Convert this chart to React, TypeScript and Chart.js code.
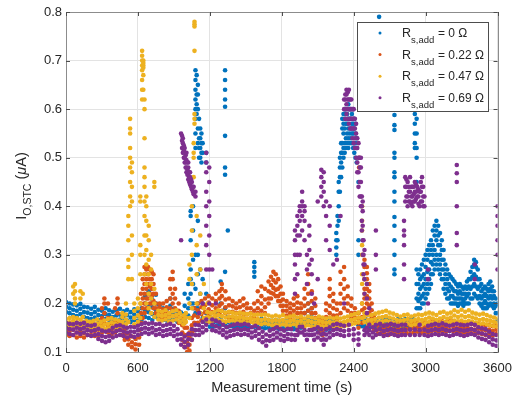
import React, { useEffect, useRef } from 'react';
import { Chart, registerables } from 'chart.js';
Chart.register(...registerables);

const seriesLabels = ['0', '0.22', '0.47', '0.69'];
const seriesColors = ['#0072BD', '#D95319', '#EDB120', '#7E2F8E'];
const xTickValues = [0, 600, 1200, 1800, 2400, 3000, 3600];
const yTickValues = [0.1, 0.2, 0.3, 0.4, 0.5, 0.6, 0.7, 0.8];
const xTitle = 'Measurement time (s)';

// rows: [time (s), value(s) read at that time (µA)...]
const blueRows: number[][] = [
  [0,0.182,0.193,0.203],[30,0.18,0.19,0.2],[60,0.176,0.187,0.198],[90,0.174,0.185,0.196],[120,0.178,0.189,0.199],[150,0.172,0.182,0.193],[180,0.17,0.181,0.192],[210,0.168,0.178,0.189],[240,0.171,0.182,0.193],[270,0.166,0.176,0.187],[300,0.164,0.174,0.185],[330,0.168,0.178,0.19],[360,0.166,0.176,0.186],[390,0.162,0.172,0.183],[420,0.165,0.175,0.186],[450,0.167,0.177,0.189],[480,0.163,0.173,0.184],[510,0.165,0.176,0.187],[540,0.162,0.171,0.182],[570,0.166,0.177,0.188],[600,0.164,0.174,0.184],
  [630,0.166,0.178,0.19],[660,0.172,0.185,0.2,0.215],[690,0.17,0.182,0.198,0.225],[720,0.166,0.178,0.192,0.208],[750,0.172,0.186,0.2,0.218],[780,0.17,0.182,0.196],[810,0.166,0.177,0.19],[840,0.165,0.176,0.188],[870,0.168,0.18,0.195,0.21],[900,0.166,0.177,0.189],[930,0.162,0.172,0.183],[960,0.16,0.17,0.181],[990,0.165,0.178,0.195,0.22],[1020,0.175,0.19,0.21,0.24],
  [1040,0.2,0.22,0.25,0.27,0.33,0.38,0.39],[1060,0.19,0.2,0.24,0.29,0.35,0.4],[1080,0.18,0.19,0.23,0.3,0.52,0.55,0.58,0.6,0.62,0.64,0.66,0.68],[1090,0.59,0.61,0.63,0.67],[1100,0.19,0.2,0.26,0.3,0.37,0.53,0.56,0.6,0.63,0.65],[1110,0.5,0.52,0.54,0.58],[1120,0.18,0.22,0.27,0.5,0.52,0.54,0.56],[1130,0.49,0.51,0.53,0.55],[1140,0.17,0.2,0.25,0.51,0.53],[1170,0.16,0.18,0.22,0.49,0.51],[1200,0.152,0.162,0.172],
  [1230,0.152,0.161,0.17],[1260,0.155,0.166,0.18],[1290,0.156,0.168,0.2,0.245],[1327,0.155,0.19,0.265,0.465,0.48,0.545,0.605,0.62,0.64,0.66,0.68],[1350,0.152,0.162,0.172,0.35],[1380,0.153,0.162,0.171],[1410,0.152,0.16,0.168],[1440,0.15,0.159,0.167],[1470,0.152,0.161,0.17],[1500,0.15,0.158,0.166],[1530,0.151,0.16,0.168],[1571,0.152,0.16,0.255,0.265,0.275,0.285],[1600,0.15,0.158,0.166],[1630,0.151,0.16,0.168],[1660,0.149,0.157,0.165],[1690,0.15,0.158,0.166],[1720,0.148,0.156,0.164],[1750,0.15,0.158,0.166],[1780,0.147,0.155,0.164],[1810,0.149,0.157,0.165],[1840,0.147,0.155,0.163],[1870,0.148,0.156,0.165],[1900,0.147,0.155,0.164],[1930,0.149,0.158,0.166],[1960,0.15,0.159,0.168],[1990,0.155,0.168,0.18],[2020,0.16,0.172,0.185,0.2],[2050,0.155,0.165,0.178,0.19],[2080,0.148,0.156,0.164],[2110,0.146,0.154,0.162],[2140,0.144,0.152,0.16],[2170,0.146,0.154,0.162],[2200,0.148,0.157,0.165],[2230,0.15,0.16,0.168],
  [2255,0.155,0.3,0.315,0.33,0.345],[2265,0.33,0.36,0.38],[2275,0.37,0.4,0.43,0.45],[2285,0.43,0.46,0.48,0.5],[2295,0.46,0.49,0.51,0.53],[2305,0.48,0.51,0.53,0.56,0.58],[2315,0.5,0.52,0.55,0.57,0.59],[2325,0.51,0.53,0.56,0.58,0.6],[2335,0.52,0.54,0.57,0.59,0.6],[2345,0.53,0.55,0.57,0.59],[2355,0.52,0.54,0.56,0.58,0.61],[2365,0.53,0.55,0.58,0.6],[2375,0.54,0.56,0.58,0.6],[2385,0.53,0.55,0.57,0.59],[2395,0.52,0.55,0.57,0.6],[2405,0.51,0.53,0.56,0.58],[2415,0.5,0.53,0.55,0.57],[2425,0.49,0.52,0.54],[2440,0.155,0.3,0.33,0.45],
  [2470,0.153,0.162,0.17],[2500,0.152,0.16,0.168],[2530,0.15,0.158,0.166],[2560,0.152,0.161,0.168],[2590,0.15,0.159,0.167],[2612,0.152,0.16,0.7,0.73,0.76,0.79],[2640,0.15,0.158,0.166],[2670,0.152,0.16,0.168],[2700,0.15,0.159,0.167],[2740,0.153,0.162,0.26,0.27,0.3,0.33,0.36,0.378,0.41,0.43,0.46,0.47,0.5,0.51,0.557,0.567,0.588],[2770,0.152,0.16,0.168],[2800,0.15,0.158,0.166],[2830,0.152,0.16,0.168],[2860,0.151,0.159,0.167],[2890,0.153,0.162,0.17],[2910,0.52,0.53,0.55,0.57,0.59],[2925,0.19,0.21,0.24,0.27,0.45,0.5,0.52,0.55,0.58,0.6],
  [2940,0.19,0.205,0.22,0.24,0.26],[2955,0.19,0.21,0.23,0.25,0.27],[2970,0.2,0.215,0.235,0.255,0.28],[2985,0.2,0.22,0.24,0.26,0.29],[3000,0.21,0.23,0.25,0.275,0.3],[3015,0.22,0.24,0.265,0.29,0.31],[3030,0.23,0.25,0.27,0.3,0.32],[3045,0.24,0.26,0.285,0.31,0.33],[3060,0.26,0.28,0.3,0.32,0.35],[3075,0.27,0.29,0.31,0.34,0.36],[3090,0.28,0.3,0.33,0.35,0.37],[3105,0.27,0.29,0.32,0.34,0.36],[3120,0.26,0.28,0.3,0.32,0.345],[3135,0.25,0.27,0.29,0.31,0.33],[3150,0.23,0.25,0.27,0.29,0.31],[3165,0.22,0.24,0.26,0.28],[3180,0.21,0.23,0.25,0.27],[3195,0.21,0.225,0.24,0.26],[3210,0.2,0.215,0.235,0.255],[3225,0.2,0.215,0.23,0.25],[3240,0.2,0.21,0.225,0.245],[3255,0.2,0.21,0.225,0.24],[3270,0.195,0.21,0.22,0.235],[3285,0.2,0.21,0.225,0.24],[3300,0.2,0.21,0.22,0.235],[3315,0.195,0.205,0.22,0.23],[3330,0.2,0.21,0.22,0.235],[3345,0.2,0.215,0.23,0.245],[3360,0.2,0.22,0.235,0.25],[3375,0.21,0.23,0.25,0.265],[3390,0.21,0.235,0.255,0.275],[3405,0.22,0.24,0.26,0.28,0.29],[3420,0.215,0.235,0.255,0.275,0.285],[3435,0.21,0.23,0.25,0.27],[3450,0.2,0.215,0.235,0.25],[3465,0.195,0.21,0.225,0.24],[3480,0.19,0.2,0.215,0.23],[3495,0.19,0.205,0.22,0.235],[3510,0.19,0.2,0.215,0.23],[3525,0.195,0.21,0.225,0.24],[3540,0.2,0.215,0.23,0.245],[3555,0.195,0.21,0.225,0.235],[3570,0.19,0.2,0.215,0.225],[3585,0.18,0.195,0.21],[3600,0.165,0.18,0.2],
];

const orangeRows: number[][] = [
  [0,0.135,0.145,0.155],[30,0.133,0.143,0.153],[60,0.135,0.146,0.156],[90,0.13,0.14,0.151],[120,0.133,0.143,0.154],[150,0.13,0.139,0.149],[180,0.135,0.145,0.156],[210,0.135,0.146,0.158],[240,0.133,0.143,0.154],[270,0.135,0.146,0.158],[300,0.14,0.155,0.17,0.19],[320,0.145,0.16,0.18,0.2,0.21],[350,0.14,0.155,0.17,0.2],[380,0.135,0.146,0.157],[410,0.14,0.152,0.165,0.19],[430,0.145,0.16,0.18,0.2,0.21],[460,0.135,0.146,0.157],[490,0.125,0.136,0.147],[520,0.115,0.126,0.138],[550,0.11,0.12,0.132],[580,0.105,0.116,0.127],[610,0.115,0.13,0.145,0.16],
  [625,0.16,0.18,0.2,0.22],[640,0.17,0.19,0.21,0.23,0.25],[655,0.18,0.2,0.22,0.24,0.26,0.275],[670,0.19,0.21,0.23,0.25,0.27],[685,0.19,0.21,0.22,0.24,0.26,0.275],[700,0.2,0.22,0.235,0.25,0.27],[715,0.2,0.215,0.23,0.25,0.265],[730,0.19,0.205,0.22,0.24,0.26],[750,0.18,0.19,0.2,0.22],[780,0.172,0.182,0.192,0.2],[810,0.168,0.178,0.188,0.2],[840,0.172,0.182,0.192,0.205],[870,0.175,0.19,0.21,0.23,0.25],[890,0.185,0.2,0.22,0.25,0.265],[910,0.175,0.19,0.21,0.23],[940,0.16,0.172,0.185,0.2],[970,0.125,0.14,0.155,0.17],[990,0.11,0.12,0.135,0.15,0.16],[1010,0.1,0.11,0.12,0.135,0.15],[1030,0.103,0.115,0.13,0.14],[1050,0.125,0.14,0.155,0.17],[1070,0.145,0.16,0.175,0.19],[1100,0.16,0.172,0.186,0.2],[1130,0.165,0.178,0.192,0.205],[1160,0.17,0.182,0.196,0.21],[1190,0.175,0.188,0.202,0.215],
  [1220,0.17,0.182,0.196,0.21],[1250,0.175,0.19,0.205,0.22],[1280,0.18,0.195,0.21,0.225],[1300,0.185,0.2,0.215,0.23,0.24],[1330,0.18,0.192,0.208,0.225],[1360,0.17,0.182,0.196,0.21],[1390,0.172,0.183,0.194,0.205],[1420,0.17,0.18,0.19,0.2],[1450,0.17,0.18,0.192,0.205],[1480,0.172,0.183,0.196,0.21],[1510,0.168,0.178,0.19,0.2],[1540,0.17,0.18,0.19],[1570,0.172,0.185,0.2],[1600,0.18,0.19,0.205,0.225],[1630,0.185,0.2,0.215,0.235],[1660,0.18,0.192,0.208,0.23],[1690,0.2,0.21,0.225,0.245],[1710,0.21,0.222,0.238,0.255],[1730,0.22,0.232,0.248,0.265],[1750,0.215,0.228,0.243,0.26],[1770,0.205,0.215,0.23,0.25],[1790,0.195,0.205,0.22,0.235],[1810,0.185,0.195,0.208,0.22],[1840,0.175,0.185,0.195,0.205],[1870,0.17,0.18,0.19,0.2],[1900,0.175,0.185,0.197,0.21],[1930,0.18,0.19,0.202,0.215],[1960,0.17,0.18,0.19,0.2],[1990,0.18,0.195,0.21,0.23],[2020,0.185,0.2,0.22,0.24,0.26],[2050,0.18,0.19,0.205,0.225],[2080,0.17,0.18,0.195,0.21],[2110,0.14,0.15,0.16,0.17],[2140,0.135,0.145,0.155,0.165],[2170,0.16,0.172,0.186,0.2],[2200,0.18,0.195,0.215,0.23,0.25],[2230,0.175,0.19,0.205,0.22],[2260,0.165,0.175,0.187,0.2],[2290,0.18,0.2,0.22,0.24,0.265],[2320,0.19,0.21,0.23,0.25,0.275],[2350,0.185,0.2,0.215,0.235],[2380,0.17,0.18,0.195,0.21],[2410,0.16,0.17,0.18,0.19],[2440,0.15,0.16,0.17,0.18],[2445,0.48,0.5],[2470,0.16,0.172,0.186,0.2],[2490,0.19,0.21,0.23,0.25,0.275,0.29],[2510,0.2,0.215,0.23,0.25,0.262,0.275],[2530,0.18,0.195,0.21,0.225,0.24],[2550,0.16,0.172,0.186,0.2],[2570,0.145,0.155,0.165,0.175],
  [2600,0.137,0.146,0.155],[2630,0.139,0.148,0.157],[2660,0.137,0.146,0.155],[2690,0.135,0.144,0.153],[2720,0.139,0.148,0.158],[2750,0.137,0.146,0.156],[2780,0.14,0.149,0.159],[2810,0.137,0.146,0.156],[2840,0.139,0.148,0.158],[2870,0.137,0.146,0.155],[2900,0.14,0.149,0.159],[2930,0.142,0.151,0.161],[2960,0.139,0.148,0.158],[2990,0.142,0.151,0.161],[3020,0.14,0.149,0.159],[3050,0.143,0.153,0.163],[3080,0.145,0.155,0.165],[3110,0.142,0.151,0.161],[3140,0.144,0.153,0.163],[3170,0.142,0.151,0.161],[3200,0.145,0.155,0.165],[3230,0.143,0.153,0.163],[3260,0.14,0.149,0.159],[3290,0.142,0.151,0.161],[3320,0.139,0.148,0.158],[3350,0.141,0.15,0.16],[3380,0.139,0.148,0.158],[3410,0.137,0.146,0.156],[3440,0.139,0.148,0.158],[3470,0.137,0.146,0.156],[3500,0.135,0.145,0.155],[3530,0.137,0.146,0.156],[3560,0.134,0.143,0.153],[3590,0.137,0.146,0.155],
];

const yellowRows: number[][] = [
  [0,0.152,0.16,0.168],[30,0.152,0.161,0.17],[60,0.155,0.164,0.172,0.22,0.235],[75,0.2,0.21,0.225,0.24],[90,0.152,0.161,0.17],[120,0.149,0.158,0.167,0.21,0.225],[140,0.152,0.162,0.172,0.22],[170,0.147,0.155,0.164],[200,0.145,0.153,0.162],[230,0.147,0.155,0.164],[260,0.149,0.158,0.167],[290,0.145,0.153,0.162],[320,0.147,0.156,0.165],[350,0.149,0.158,0.168],[380,0.152,0.161,0.17],[410,0.149,0.158,0.167],[440,0.147,0.156,0.165],[470,0.152,0.162,0.172,0.18],[500,0.157,0.167,0.177,0.2],[520,0.162,0.25,0.275,0.29,0.33,0.36,0.38],[535,0.4,0.42,0.45,0.48,0.5,0.52,0.55,0.56,0.58],[550,0.25,0.3,0.34,0.41,0.44,0.47,0.49],[570,0.157,0.17,0.185,0.2],[600,0.162,0.175,0.19,0.21],[620,0.17,0.2,0.26,0.3,0.32,0.41,0.42],[635,0.62,0.64,0.66,0.68,0.69,0.7,0.71,0.72],[645,0.64,0.67,0.685,0.69,0.695,0.7],[655,0.26,0.3,0.34,0.38,0.41,0.44,0.46,0.48,0.54,0.6,0.62],[670,0.2,0.24,0.28,0.31,0.34,0.37,0.4,0.42],[690,0.19,0.22,0.26,0.29,0.33,0.36],[710,0.18,0.21,0.24,0.27,0.3],[737,0.172,0.2,0.23,0.44,0.45],
  [770,0.167,0.176,0.185],[800,0.165,0.174,0.183],[830,0.167,0.176,0.186],[860,0.162,0.171,0.18],[890,0.165,0.174,0.184],[920,0.167,0.176,0.186],[950,0.162,0.171,0.18],[980,0.157,0.166,0.175],[1000,0.162,0.171,0.18],[1030,0.17,0.2,0.25,0.28],[1050,0.19,0.24,0.3,0.35,0.4],[1065,0.43,0.46,0.5,0.51,0.53],[1072,0.57,0.58,0.59,0.72,0.77,0.775,0.78],[1090,0.2,0.26,0.32,0.38],[1120,0.18,0.22,0.27,0.34],[1150,0.17,0.19,0.24],[1180,0.162,0.172,0.182,0.2],[1210,0.162,0.171,0.18],
  [1240,0.165,0.174,0.183],[1270,0.167,0.176,0.186],[1300,0.165,0.174,0.184],[1330,0.162,0.171,0.181],[1360,0.164,0.173,0.183],[1390,0.165,0.173,0.181],[1420,0.162,0.17,0.179],[1450,0.163,0.172,0.181],[1480,0.162,0.17,0.179],[1510,0.16,0.169,0.178],[1540,0.162,0.17,0.179],[1570,0.159,0.167,0.176],[1600,0.16,0.168,0.177],[1630,0.157,0.166,0.176],[1660,0.159,0.168,0.177],[1690,0.157,0.166,0.175],[1720,0.155,0.164,0.173],[1750,0.157,0.166,0.175],[1780,0.155,0.164,0.173],[1810,0.157,0.166,0.176],[1840,0.154,0.162,0.171],[1870,0.155,0.164,0.173],[1900,0.157,0.166,0.175],[1930,0.154,0.162,0.171],[1960,0.155,0.164,0.173],[1990,0.152,0.16,0.169],[2020,0.155,0.164,0.173],[2050,0.153,0.162,0.171],[2080,0.152,0.16,0.169],[2110,0.155,0.164,0.173],[2140,0.153,0.162,0.171],[2170,0.152,0.16,0.169],[2200,0.153,0.162,0.171],[2230,0.152,0.16,0.169],[2260,0.154,0.162,0.171],[2290,0.152,0.16,0.169],[2320,0.153,0.162,0.171],[2350,0.155,0.164,0.173],[2380,0.157,0.166,0.176],[2410,0.159,0.168,0.178],[2440,0.162,0.171,0.181],[2470,0.17,0.2,0.24,0.26,0.3,0.32,0.35,0.37,0.4],[2490,0.162,0.172,0.18,0.22,0.25],[2520,0.157,0.166,0.176],
  [2550,0.157,0.166,0.176],[2580,0.159,0.168,0.179],[2610,0.162,0.171,0.181],[2640,0.163,0.172,0.183],[2670,0.165,0.174,0.185],[2700,0.162,0.171,0.181],[2730,0.16,0.169,0.179],[2760,0.157,0.166,0.176],[2790,0.155,0.164,0.173],[2820,0.157,0.166,0.176],[2850,0.159,0.168,0.177],[2880,0.155,0.164,0.173],[2910,0.157,0.166,0.175],[2940,0.159,0.168,0.177],[2970,0.157,0.166,0.176],[3000,0.159,0.168,0.179],[3030,0.162,0.171,0.181],[3060,0.16,0.169,0.179],[3090,0.157,0.166,0.176],[3120,0.159,0.169,0.181],[3150,0.162,0.172,0.183],[3180,0.16,0.169,0.179],[3210,0.162,0.171,0.181],[3240,0.165,0.175,0.186],[3270,0.163,0.172,0.183],[3300,0.165,0.175,0.187],[3330,0.162,0.172,0.183],[3360,0.164,0.174,0.186],[3390,0.162,0.171,0.181],[3420,0.16,0.169,0.179],[3450,0.157,0.166,0.177],[3480,0.159,0.168,0.179],[3510,0.157,0.166,0.176],[3540,0.155,0.164,0.173],[3570,0.153,0.162,0.171],[3600,0.152,0.16,0.169],
];

const purpleRows: number[][] = [
  [0,0.14,0.15,0.16],[30,0.137,0.147,0.158],[60,0.135,0.146,0.157],[90,0.14,0.15,0.16],[120,0.137,0.147,0.158],[150,0.14,0.15,0.16],[180,0.135,0.145,0.155],[210,0.133,0.143,0.154],[240,0.135,0.145,0.156],[270,0.127,0.137,0.148],[300,0.123,0.133,0.144],[330,0.12,0.131,0.142],[360,0.123,0.133,0.144],[390,0.13,0.14,0.15],[420,0.133,0.143,0.154],[450,0.135,0.145,0.155],[480,0.133,0.142,0.152],[510,0.13,0.14,0.15],[540,0.133,0.142,0.152],[570,0.131,0.141,0.151],[600,0.135,0.145,0.154],[630,0.137,0.147,0.157],[660,0.14,0.15,0.16],[690,0.137,0.147,0.158],[720,0.14,0.15,0.16],[750,0.135,0.145,0.157],[780,0.137,0.147,0.158],[810,0.133,0.143,0.154],[840,0.135,0.145,0.156],[870,0.137,0.147,0.158],[900,0.133,0.143,0.154],[930,0.125,0.136,0.147],
  [960,0.115,0.126,0.137,0.33,0.55],[968,0.52,0.535,0.545],[975,0.51,0.53,0.54],[983,0.5,0.515,0.525],[990,0.11,0.121,0.132,0.49,0.5,0.52],[998,0.48,0.49,0.505],[1005,0.47,0.48,0.495,0.51],[1013,0.465,0.475,0.49],[1020,0.115,0.126,0.137,0.455,0.465,0.48,0.49],[1028,0.45,0.46,0.47],[1035,0.445,0.455,0.46,0.47],[1043,0.44,0.45,0.455],[1050,0.125,0.136,0.147,0.435,0.44,0.45],[1058,0.43,0.44],[1065,0.425,0.43,0.44],[1080,0.135,0.145,0.156,0.42,0.43],[1110,0.135,0.145,0.155,0.18],[1140,0.14,0.151,0.162,0.2],[1170,0.145,0.156,0.167,0.27,0.32,0.36,0.4,0.43,0.47,0.49,0.51],[1195,0.2,0.27,0.3,0.34,0.38,0.41,0.45,0.48],[1220,0.145,0.156,0.167,0.27],
  [1250,0.143,0.153,0.164,0.2],[1280,0.14,0.15,0.161],[1310,0.135,0.145,0.156],[1340,0.13,0.14,0.151],[1370,0.133,0.143,0.154],[1400,0.135,0.145,0.156],[1430,0.137,0.147,0.158],[1460,0.135,0.145,0.156],[1490,0.137,0.147,0.158],[1520,0.135,0.145,0.156],[1550,0.13,0.14,0.151],[1580,0.133,0.143,0.154],[1610,0.125,0.137,0.149],[1640,0.12,0.131,0.142],[1670,0.113,0.124,0.136],[1700,0.123,0.133,0.144],[1730,0.125,0.136,0.147],[1760,0.13,0.14,0.151],[1790,0.125,0.136,0.147],[1820,0.123,0.133,0.144],[1850,0.127,0.137,0.148],[1880,0.125,0.136,0.147],
  [1910,0.125,0.135,0.22,0.25,0.28,0.3,0.33,0.35],[1930,0.135,0.145,0.26,0.3,0.34,0.36,0.38],[1950,0.14,0.152,0.3,0.34,0.37,0.39,0.4],[1970,0.14,0.152,0.35,0.38,0.4,0.41,0.43],[1990,0.135,0.145,0.33,0.37,0.39,0.4],[2010,0.125,0.136,0.24,0.27,0.3],[2030,0.135,0.145,0.28,0.31,0.34,0.36],[2050,0.135,0.145,0.22,0.26,0.29],[2070,0.125,0.136,0.147,0.2],[2100,0.13,0.14,0.151,0.25,0.41],[2130,0.125,0.136,0.147,0.42,0.44,0.46,0.475],[2150,0.115,0.126,0.138,0.4,0.43,0.45,0.47],[2170,0.125,0.136,0.147,0.33,0.38,0.41],[2200,0.13,0.14,0.151,0.31,0.36,0.4],[2230,0.135,0.145,0.156,0.28],[2260,0.137,0.147,0.158,0.29],[2290,0.135,0.145,0.156,0.38],[2320,0.133,0.143,0.154,0.2,0.6,0.62],[2330,0.58,0.6,0.62,0.63],[2340,0.59,0.61,0.63,0.64],[2350,0.58,0.6,0.62,0.635],[2360,0.135,0.145,0.156,0.57,0.6,0.62,0.64],[2370,0.56,0.58,0.6,0.62],[2380,0.56,0.58,0.6,0.62],[2390,0.54,0.56,0.58,0.6],[2400,0.125,0.136,0.147,0.53,0.56,0.58,0.6],[2410,0.52,0.54,0.56,0.58],[2420,0.5,0.52,0.55,0.57],[2430,0.47,0.49,0.52,0.54],[2440,0.115,0.126,0.138,0.44,0.47,0.5,0.53],[2450,0.42,0.45,0.48,0.5],[2460,0.4,0.42,0.45,0.48,0.5],[2468,0.35,0.37,0.4,0.42],[2475,0.3,0.33,0.36,0.39,0.41],[2482,0.26,0.28,0.3,0.33],[2490,0.135,0.145,0.22,0.25,0.28,0.31],[2510,0.14,0.15,0.18,0.21,0.24],[2530,0.135,0.145,0.156,0.19],[2560,0.13,0.14,0.151],[2585,0.135,0.145,0.156,0.27,0.3,0.35],
  [2620,0.137,0.147,0.158],[2650,0.133,0.143,0.154],[2680,0.135,0.145,0.156],[2710,0.137,0.147,0.158],[2740,0.135,0.145,0.156],[2770,0.133,0.143,0.154],[2800,0.135,0.145,0.156],[2820,0.25,0.28,0.32,0.34,0.35,0.37],[2830,0.135,0.145,0.156,0.41,0.44,0.46],[2840,0.42,0.44,0.455],[2850,0.4,0.42,0.45],[2860,0.41,0.43,0.44],[2870,0.135,0.146,0.41,0.43,0.46],[2880,0.405,0.42,0.44],[2890,0.4,0.42,0.44],[2900,0.41,0.425,0.44],[2910,0.135,0.146,0.41,0.43,0.45],[2920,0.415,0.43,0.445],[2930,0.42,0.44],[2940,0.405,0.42,0.435],[2950,0.135,0.145,0.156,0.4,0.43],[2960,0.41,0.43,0.45],[2970,0.41,0.44,0.46],[2980,0.4,0.42,0.44],[2990,0.135,0.146,0.4,0.42],
  [3020,0.133,0.143,0.154,0.2,0.25,0.27],[3050,0.135,0.145,0.156],[3080,0.137,0.147,0.158],[3110,0.135,0.145,0.156],[3140,0.137,0.148,0.159],[3170,0.135,0.145,0.156],[3200,0.133,0.143,0.154],[3230,0.135,0.145,0.156],[3260,0.137,0.147,0.158,0.32,0.345,0.4,0.45,0.468,0.485],[3290,0.135,0.145,0.156],[3320,0.133,0.144,0.155],[3350,0.135,0.145,0.156],[3380,0.137,0.147,0.158],[3410,0.135,0.145,0.156,0.25,0.28],[3440,0.13,0.14,0.151],[3470,0.127,0.138,0.149],[3500,0.125,0.136,0.147],[3530,0.12,0.131,0.142],[3560,0.115,0.126,0.137],[3590,0.113,0.124,0.135],[3600,0.27,0.3,0.33,0.36,0.38,0.4],
];

const seriesRows = [blueRows, orangeRows, yellowRows, purpleRows];

const FONT = '"Liberation Sans", Arial, Helvetica, sans-serif';
const TEXT = '#262626';

const toPoints = (rows: number[][]) =>
  rows.flatMap(([t, ...vs]) => vs.map((v) => ({ x: t, y: v })));

const decorPlugin = {
  id: 'decor',
  afterDatasetsDraw(chart: any) {
    const { ctx, chartArea: a, scales } = chart;
    const xs = scales.x, ys = scales.y;
    ctx.save();
    ctx.strokeStyle = '#8c8c8c';
    ctx.lineWidth = 1;
    ctx.strokeRect(Math.round(a.left) + 0.5, Math.round(a.top) + 0.5, Math.round(a.right - a.left), Math.round(a.bottom - a.top));
    ctx.strokeStyle = '#4d4d4d';
    ctx.beginPath();
    xTickValues.forEach((v) => {
      const px = Math.round(xs.getPixelForValue(v)) + 0.5;
      ctx.moveTo(px, a.bottom); ctx.lineTo(px, a.bottom - 4);
      ctx.moveTo(px, a.top); ctx.lineTo(px, a.top + 4);
    });
    yTickValues.forEach((v) => {
      const py = Math.round(ys.getPixelForValue(v)) + 0.5;
      ctx.moveTo(a.left, py); ctx.lineTo(a.left + 4, py);
      ctx.moveTo(a.right, py); ctx.lineTo(a.right - 4, py);
    });
    ctx.stroke();

    // legend
    const lx = 357, ly = 22, lw = 131, lh = 89;
    ctx.fillStyle = '#ffffff';
    ctx.fillRect(lx, ly, lw, lh);
    ctx.strokeStyle = '#4d4d4d';
    ctx.strokeRect(lx + 0.5, ly + 0.5, lw, lh);
    seriesLabels.forEach((lab, i) => {
      const cy = 33 + i * 21.6;
      ctx.fillStyle = seriesColors[i];
      ctx.beginPath();
      ctx.arc(380, cy, 1.5, 0, Math.PI * 2);
      ctx.fill();
      ctx.fillStyle = TEXT;
      ctx.textBaseline = 'alphabetic';
      ctx.textAlign = 'left';
      ctx.font = `12.5px ${FONT}`;
      ctx.fillText('R', 402, cy + 4);
      const wR = ctx.measureText('R').width;
      ctx.font = `9.5px ${FONT}`;
      ctx.fillText('s,add', 402 + wR, cy + 10);
      ctx.font = `12px ${FONT}`;
      ctx.fillText(`= ${lab} \u03A9`, 438, cy + 4);
    });

    // x title
    ctx.fillStyle = TEXT;
    ctx.font = `14.5px ${FONT}`;
    ctx.textAlign = 'center';
    ctx.textBaseline = 'middle';
    ctx.fillText(xTitle, (a.left + a.right) / 2, 388);

    // y title with subscript
    ctx.save();
    ctx.translate(22, 186);
    ctx.rotate(-Math.PI / 2);
    ctx.textAlign = 'left';
    ctx.textBaseline = 'middle';
    const big = `14.5px ${FONT}`, small = `10.5px ${FONT}`;
    const parts = [
      { t: 'I', f: big, dy: 0 },
      { t: 'O,STC', f: small, dy: 6 },
      { t: ' (', f: big, dy: 0 },
      { t: '\u03BC', f: `italic 14.5px ${FONT}`, dy: 0 },
      { t: 'A)', f: big, dy: 0 },
    ];
    let total = 0;
    parts.forEach((p) => { ctx.font = p.f; total += ctx.measureText(p.t).width; });
    let x = -total / 2;
    parts.forEach((p) => {
      ctx.font = p.f;
      ctx.fillText(p.t, x, p.dy);
      x += ctx.measureText(p.t).width;
    });
    ctx.restore();
    ctx.restore();
  },
};

export default function App() {
  const ref = useRef<HTMLCanvasElement | null>(null);
  useEffect(() => {
    if (!ref.current) return;
    const orders = [4, 3, 2, 1];
    const chart = new Chart(ref.current, {
      type: 'scatter',
      data: {
        datasets: seriesRows.map((rows, i) => ({
          label: `R_s,add = ${seriesLabels[i]} \u03A9`,
          data: toPoints(rows),
          backgroundColor: seriesColors[i],
          borderWidth: 0,
          pointRadius: 2.3,
          order: orders[i],
        })),
      },
      options: {
        animation: false,
        responsive: false,
        devicePixelRatio: 1,
        layout: { padding: { left: 0, top: 12, right: 23, bottom: 0 } },
        plugins: { legend: { display: false }, tooltip: { enabled: false } },
        scales: {
          x: {
            type: 'linear',
            min: 0,
            max: 3600,
            afterFit: (s: any) => { s.height = 48; },
            afterBuildTicks: (s: any) => { s.ticks = xTickValues.map((v) => ({ value: v })); },
            ticks: { color: TEXT, font: { family: FONT, size: 13 }, padding: 9, maxRotation: 0, callback: (v: any) => String(v) },
            grid: { color: '#e3e3e3', drawTicks: false },
            border: { display: false },
          },
          y: {
            type: 'linear',
            min: 0.1,
            max: 0.8,
            afterFit: (s: any) => { s.width = 66; },
            afterBuildTicks: (s: any) => { s.ticks = yTickValues.map((v) => ({ value: v })); },
            ticks: { color: TEXT, font: { family: FONT, size: 13 }, padding: 4, callback: (v: any) => Number(v).toFixed(1) },
            grid: { color: '#e3e3e3', drawTicks: false },
            border: { display: false },
          },
        },
      },
      plugins: [decorPlugin],
    });
    return () => chart.destroy();
  }, []);
  return (
    <div style={{ position: 'fixed', left: 0, top: 0, width: 521, height: 400, background: '#fff' }}>
      <canvas ref={ref} width={521} height={400} />
    </div>
  );
}
